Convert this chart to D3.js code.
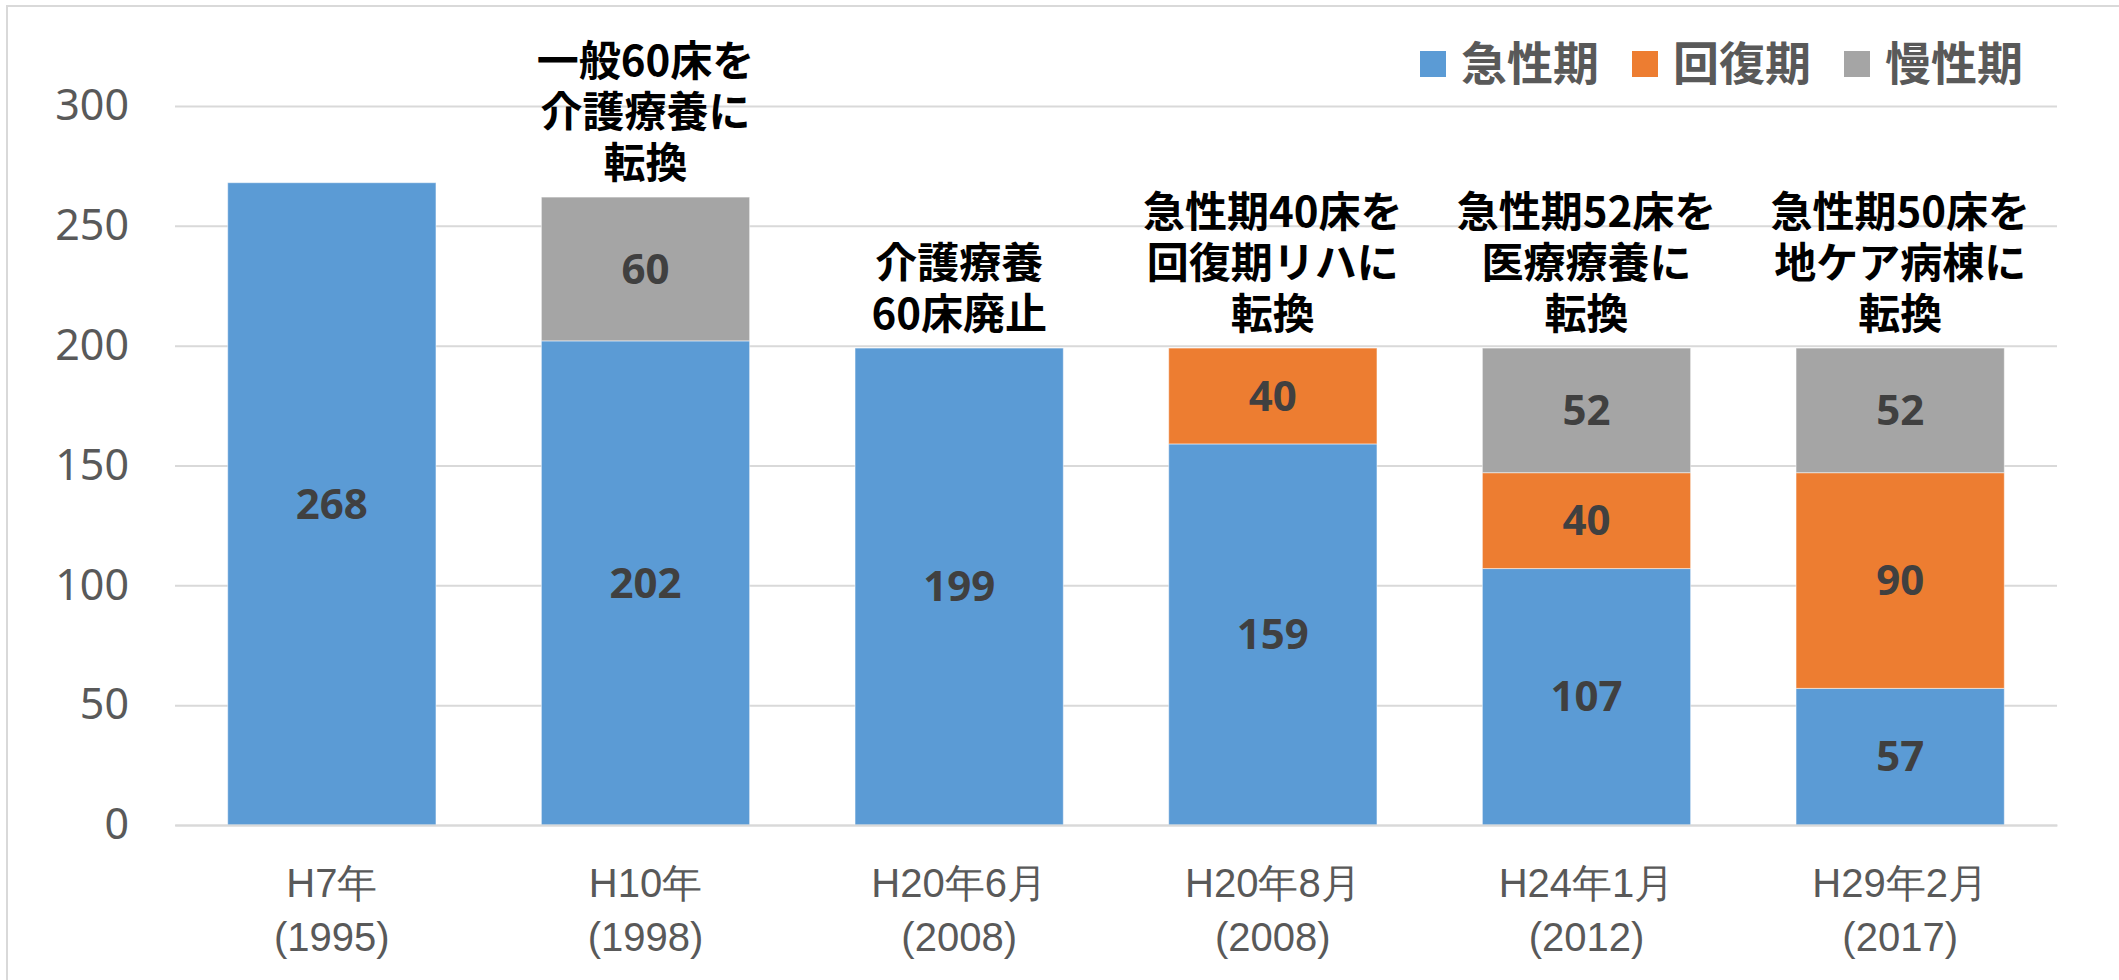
<!DOCTYPE html>
<html>
<head>
<meta charset="utf-8">
<script src="https://cdn.jsdelivr.net/npm/d3@7"></script>
<style>
  body { margin: 0; background: #fff; }
  svg { display: block; font-family: "Noto Sans CJK JP", "Noto Sans", sans-serif; }
</style>
</head>
<body>
<div id="chart"></div>
<script>
// categories (two-line tick labels)
const periods = ["H7年", "H10年", "H20年6月", "H20年8月", "H24年1月", "H29年2月"];
const years = ["(1995)", "(1998)", "(2008)", "(2008)", "(2012)", "(2017)"];
// series values
const acute = [268, 202, 199, 159, 107, 57];
const recovery = [0, 0, 0, 40, 40, 90];
const chronic = [0, 60, 0, 0, 52, 52];
const seriesNames = ["急性期", "回復期", "慢性期"];
const seriesColors = ["#5B9BD5", "#ED7D31", "#A5A5A5"];
const yTicks = [0, 50, 100, 150, 200, 250, 300];
// notes written above the bars
const notes = [
  [],
  ["一般60床を", "介護療養に", "転換"],
  ["介護療養", "60床廃止"],
  ["急性期40床を", "回復期リハに", "転換"],
  ["急性期52床を", "医療療養に", "転換"],
  ["急性期50床を", "地ケア病棟に", "転換"]
];

document.addEventListener('DOMContentLoaded', function() {
  const w = 2119, h = 980;
  const left = 175, right = 2057, top = 106, bottom = 825;

  const rows = periods.map((p, i) => ({key: p, a: acute[i], r: recovery[i], c: chronic[i]}));
  const stack = d3.stack().keys(["a", "r", "c"]);
  const layers = stack(rows);

  const x = d3.scaleBand()
    .domain(periods)
    .range([left, right])
    .paddingInner(0.336)
    .paddingOuter(0.168);
  const y = d3.scaleLinear()
    .domain([0, 300])
    .range([bottom, top]);

  const svg = d3.select("#chart").append("svg")
    .attr("width", w)
    .attr("height", h);

  // chart border
  svg.append("rect")
    .attr("x", 7).attr("y", 6)
    .attr("width", w).attr("height", h)
    .attr("fill", "none")
    .attr("stroke", "#D9D9D9")
    .attr("stroke-width", 2);

  // gridlines + y labels
  const yAxis = d3.axisLeft(y).tickValues(yTicks).tickSize(-(right - left)).tickPadding(46);
  const gy = svg.append("g")
    .attr("transform", "translate(" + left + ",0)")
    .call(yAxis);
  gy.select(".domain").remove();
  gy.selectAll(".tick line").attr("stroke", "#D9D9D9").attr("stroke-width", 2);
  gy.selectAll(".tick text")
    .attr("fill", "#595959")
    .style("font-family", "'Noto Sans', sans-serif")
    .style("font-size", "43px");

  // bars
  layers.forEach(function(layer, li) {
    svg.append("g")
      .selectAll("rect")
      .data(layer.filter(d => d[1] - d[0] > 0))
      .enter()
      .append("rect")
      .attr("x", d => x(d.data.key))
      .attr("y", d => y(d[1]))
      .attr("width", x.bandwidth())
      .attr("height", d => y(d[0]) - y(d[1]))
      .attr("fill", seriesColors[li])
      .attr("stroke", "#fff")
      .attr("stroke-opacity", 0.5)
      .attr("stroke-width", 1);

    svg.append("g")
      .selectAll("text")
      .data(layer.filter(d => d[1] - d[0] > 0))
      .enter()
      .append("text")
      .attr("x", d => x(d.data.key) + x.bandwidth() / 2)
      .attr("y", d => (y(d[0]) + y(d[1])) / 2)
      .attr("dy", "0.35em")
      .attr("text-anchor", "middle")
      .attr("fill", "#404040")
      .style("font-family", "'Noto Sans', sans-serif")
      .style("font-weight", "bold")
      .style("font-size", "42px")
      .text(d => d[1] - d[0]);
  });

  // x axis labels
  const xAxis = d3.axisBottom(x).tickSize(0).tickFormat("");
  const gx = svg.append("g")
    .attr("transform", "translate(0," + bottom + ")")
    .call(xAxis);
  gx.select(".domain").attr("stroke", "#D9D9D9").attr("stroke-width", 2);
  gx.selectAll(".tick").each(function(d, i) {
    const t = d3.select(this).append("text")
      .attr("text-anchor", "middle")
      .attr("fill", "#595959")
      .style("font-size", "40px");
    t.append("tspan").attr("x", 0).attr("y", 58).attr("dy", "0.35em").text(periods[i]);
    t.append("tspan").attr("x", 0).attr("y", 112).attr("dy", "0.35em").text(years[i]);
  });

  // notes above bars
  const totals = rows.map(r => r.a + r.r + r.c);
  notes.forEach(function(lines, i) {
    const cx = x(periods[i]) + x.bandwidth() / 2;
    const lastY = y(totals[i]) - 34;
    svg.append("text")
      .attr("text-anchor", "middle")
      .attr("fill", "#000")
      .style("font-weight", "bold")
      .style("font-size", "42px")
      .selectAll("tspan")
      .data(lines)
      .enter()
      .append("tspan")
      .attr("x", cx)
      .attr("y", (d, j) => lastY - (lines.length - 1 - j) * 51)
      .attr("dy", "0.35em")
      .text(d => d);
  });

  // legend
  const legendX = [1420, 1632, 1844];
  const legend = svg.append("g");
  seriesNames.forEach(function(name, i) {
    legend.append("rect")
      .attr("x", legendX[i]).attr("y", 51)
      .attr("width", 26).attr("height", 26)
      .attr("fill", seriesColors[i]);
    legend.append("text")
      .attr("x", legendX[i] + 41).attr("y", 64)
      .attr("dy", "0.35em")
      .attr("fill", "#595959")
      .style("font-weight", "bold")
      .style("font-size", "46px")
      .text(name);
  });
});
</script>
</body>
</html>
